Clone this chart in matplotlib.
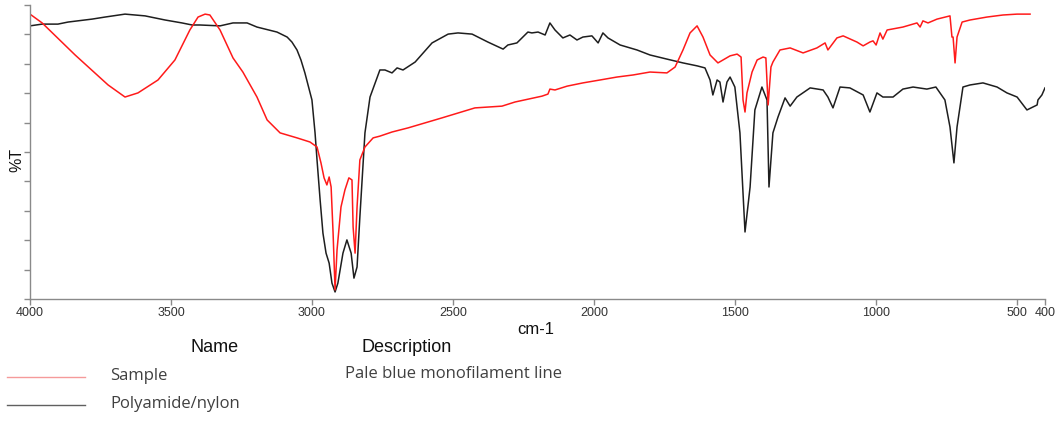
import matplotlib
matplotlib.use("Agg")
import matplotlib.pyplot as plt
from matplotlib.lines import Line2D

# FTIR overlay: sample spectrum vs. library reference (polyamide)
ref_wn = [4000, 3957, 3901, 3865, 3780, 3734, 3663, 3592, 3521, 3461, 3425,
          3397, 3326, 3280, 3230, 3195, 3124, 3088, 3071, 3053, 3039, 3025,
          3000, 2989, 2982, 2971, 2961, 2950, 2939, 2929, 2918, 2908, 2890,
          2876, 2861, 2851, 2840, 2830, 2812, 2794, 2759, 2741, 2716, 2698,
          2677, 2634, 2574, 2517, 2482, 2432, 2376, 2322, 2305, 2273, 2234,
          2220, 2198, 2173, 2156, 2138, 2110, 2085, 2060, 2039, 2007, 1985,
          1968, 1950, 1907, 1847, 1801, 1741, 1684, 1634, 1606, 1588, 1578,
          1563, 1553, 1542, 1528, 1517, 1500, 1482, 1464, 1446, 1429, 1404,
          1386, 1379, 1365, 1347, 1322, 1304, 1280, 1233, 1187, 1170, 1152,
          1127, 1092, 1045, 1021, 996, 975, 939, 904, 868, 819, 787, 755,
          737, 723, 712, 691, 666, 620, 570, 535, 499, 464, 443, 428, 425,
          411, 400]
ref_t = [92.9, 93.5, 93.5, 94.2, 95.2, 95.9, 96.9, 96.3, 94.9, 93.9, 93.2,
         93.2, 92.9, 93.9, 93.9, 92.5, 90.8, 89.1, 87.4, 84.7, 81.3, 76.9,
         67.7, 56.5, 47.3, 33.7, 22.4, 15.6, 12.2, 5.4, 2.4, 5.4, 15.6,
         20.1, 15.6, 7.1, 10.9, 27.9, 56.5, 68.7, 77.9, 77.9, 76.9, 78.6,
         77.9, 80.6, 87.1, 90.1, 90.5, 90.1, 87.4, 85.0, 86.4, 87.1, 90.8,
         90.5, 90.8, 89.8, 93.9, 91.5, 88.8, 89.8, 88.1, 89.1, 89.5, 87.1,
         90.5, 88.8, 86.4, 84.7, 83.0, 81.6, 80.3, 79.3, 78.6, 74.5, 69.4,
         74.5, 73.8, 67.0, 73.8, 75.5, 72.1, 56.5, 22.8, 38.1, 64.3, 72.1,
         67.7, 38.1, 56.5, 61.9, 68.4, 65.6, 68.7, 71.8, 71.1, 68.7, 65.0,
         72.1, 71.8, 69.4, 63.6, 70.1, 68.7, 68.7, 71.4, 72.1, 71.4, 72.1, 67.7,
         58.5, 46.3, 58.5, 72.1, 72.8, 73.5, 72.1, 70.1, 68.7, 64.3, 65.3, 66.0, 67.7,
         69.4, 71.8]

sample_wn = [4000, 3957, 3840, 3723, 3663, 3617, 3546, 3486, 3433, 3404, 3379,
             3362, 3326, 3280, 3245, 3195, 3159, 3113, 3053, 3007, 2982, 2968,
             2957, 2947, 2939, 2932, 2925, 2918, 2911, 2897, 2883, 2869, 2858,
             2854, 2847, 2840, 2830, 2812, 2783, 2759, 2716, 2659, 2539, 2422,
             2326, 2280, 2184, 2163, 2156, 2138, 2095, 2039, 1978, 1918, 1861,
             1801, 1741, 1712, 1684, 1659, 1634, 1613, 1588, 1560, 1517, 1492,
             1478, 1471, 1464, 1457, 1439, 1421, 1400, 1390, 1382, 1372, 1365,
             1340, 1304, 1258, 1209, 1180, 1170, 1138, 1116, 1067, 1045, 1021,
             1010, 999, 985, 975, 960, 904, 854, 843, 833, 815, 783, 737, 730,
             726, 719, 712, 694, 666, 606, 549, 499, 453]
sample_t = [96.9, 93.9, 83.0, 72.8, 68.7, 70.1, 74.5, 81.3, 91.5, 95.9, 96.9,
            96.6, 91.5, 82.0, 77.2, 68.7, 60.9, 56.5, 54.8, 53.4, 51.7, 46.3,
            41.2, 38.8, 41.5, 38.1, 22.4, 3.1, 16.7, 31.3, 37.1, 41.2, 40.5,
            24.5, 15.6, 31.3, 47.3, 51.7, 54.8, 55.4, 56.8, 58.2, 61.6, 65.0,
            65.6, 67.0, 69.0, 69.7, 71.4, 71.1, 72.4, 73.5, 74.5, 75.5, 76.2,
            77.2, 76.9, 78.9, 84.7, 90.5, 92.9, 89.1, 83.0, 80.3, 82.7, 83.3,
            82.3, 67.7, 63.6, 70.1, 77.2, 81.3, 82.3, 82.0, 66.0, 78.9, 80.6,
            84.7, 85.4, 83.7, 85.4, 87.1, 84.7, 88.8, 89.5, 87.4, 86.1, 87.4,
            87.8, 86.4, 90.5, 88.4, 91.5, 92.5, 93.9, 92.5, 94.6, 93.9, 95.2, 96.3, 89.1,
            89.1, 80.3, 89.1, 94.2, 94.9, 95.9, 96.6, 96.9, 96.9]

x_ticks = [4000, 3500, 3000, 2500, 2000, 1500, 1000, 500, 400]
names = ["Sample", "Polyamide/nylon"]
descriptions = ["Pale blue monofilament line", ""]
line_colors = ["#ff1a1a", "#1e1e1e"]
key_colors = ["#f59a9a", "#606060"]

W, H = 1063, 421
fig = plt.figure(figsize=(W / 100, H / 100), dpi=100)
ax = fig.add_axes([30 / W, 1 - 299 / H, 1015 / W, 294 / H])

ax.plot(ref_wn, ref_t, color=line_colors[1], lw=1.1)
ax.plot(sample_wn, sample_t, color=line_colors[0], lw=1.1)

ax.set_xlim(4000, 400)
ax.set_ylim(0, 100)
ax.set_xticks(x_ticks)
ax.set_xticklabels([str(t) for t in x_ticks], fontsize=9,
                   family="Liberation Sans", color="#333333")
ax.set_yticks(range(0, 101, 10))
ax.set_yticklabels([])
for s in ("top", "right"):
    ax.spines[s].set_visible(False)
for s in ("left", "bottom"):
    ax.spines[s].set_color("#8a8a8a")
    ax.spines[s].set_linewidth(1.0)
ax.tick_params(axis="both", color="#8a8a8a", length=4, width=1.0, pad=2)

fig.text(536 / W, 1 - 329 / H, "cm-1", ha="center", va="center",
         fontsize=12, family="Liberation Sans", color="#111111")
fig.text(17 / W, 1 - 160 / H, "%T", ha="center", va="center", rotation=90,
         fontsize=11.5, family="Liberation Sans", color="#111111")

# key table below the plot
fig.text(215 / W, 1 - 347 / H, "Name", ha="center", va="center",
         fontsize=13, family="Liberation Sans", color="#111111")
fig.text(407 / W, 1 - 347 / H, "Description", ha="center", va="center",
         fontsize=13, family="Liberation Sans", color="#111111")
for i, (nm, desc) in enumerate(zip(names, descriptions)):
    y = 377 + 28 * i
    fig.add_artist(Line2D([7 / W, 85 / W], [1 - y / H, 1 - y / H],
                          color=key_colors[i], lw=1.0))
    fig.text(110 / W, 1 - (y - 1) / H, nm, ha="left", va="center",
             fontsize=12, family="Open Sans", color="#404040")
    if desc:
        fig.text(345 / W, 1 - (y - 3) / H, desc, ha="left", va="center",
                 fontsize=12, family="Open Sans", color="#404040")

fig.savefig("out.png", dpi=100)
